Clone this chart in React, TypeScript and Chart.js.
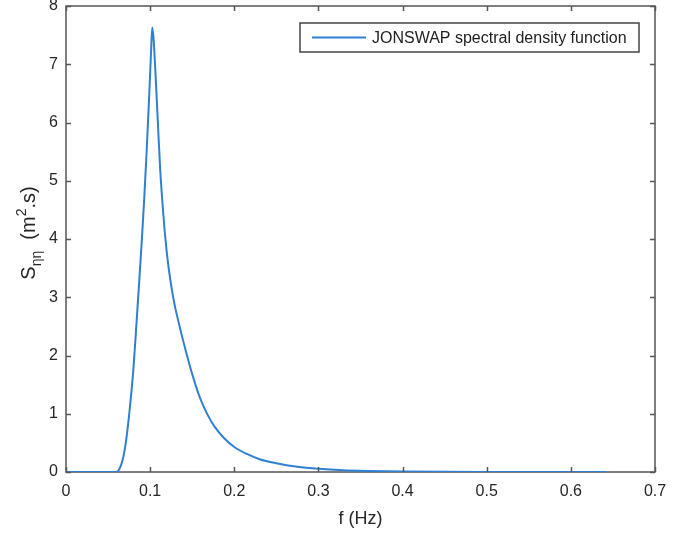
import { useEffect, useRef } from "react";
import { Chart, registerables } from "chart.js";

Chart.register(...registerables);

// JONSWAP spectrum samples: frequency (Hz) and spectral density (m^2.s)
const freqHz = [
  0, 0.06, 0.062, 0.065, 0.068, 0.07, 0.073, 0.076, 0.08, 0.083, 0.086, 0.09,
  0.093, 0.096, 0.099, 0.101, 0.1025, 0.104, 0.1065, 0.1095, 0.112, 0.115,
  0.118, 0.122, 0.128, 0.135, 0.142, 0.15, 0.159, 0.168, 0.177, 0.188, 0.2,
  0.215, 0.23, 0.25, 0.275, 0.3, 0.33, 0.36, 0.4, 0.45, 0.5, 0.55, 0.6, 0.642,
];
const densityS = [
  0, 0, 0.02, 0.1, 0.25, 0.4, 0.72, 1.12, 1.75, 2.38, 3.05, 3.95, 4.7, 5.55,
  6.5, 7.18, 7.63, 7.45, 6.8, 5.9, 5.18, 4.55, 4.03, 3.5, 2.95, 2.5, 2.1, 1.68,
  1.28, 0.99, 0.77, 0.58, 0.43, 0.31, 0.22, 0.15, 0.09, 0.055, 0.03, 0.018,
  0.009, 0.004, 0.002, 0.001, 0, 0,
];

const xTickValues = [0, 0.1, 0.2, 0.3, 0.4, 0.5, 0.6, 0.7];
const yTickValues = [0, 1, 2, 3, 4, 5, 6, 7, 8];

const legendLabel = "JONSWAP spectral density function";
const xTitle = "f (Hz)";

const FONT = '"Liberation Sans", Arial, Helvetica, sans-serif';
const AXIS_COLOR = "#555555";
const TEXT_COLOR = "#262626";
const LINE_COLOR = "#2f80d2";

const framePlugin = {
  id: "matlabFrame",
  beforeDatasetsDraw(chart: any) {
    const { ctx, chartArea: a } = chart;
    ctx.save();
    ctx.strokeStyle = AXIS_COLOR;
    ctx.lineWidth = 1.5;
    ctx.strokeRect(a.left, a.top, a.right - a.left, a.bottom - a.top);
    ctx.restore();
  },
  afterDatasetsDraw(chart: any) {
    const { ctx, chartArea: a, scales } = chart;
    const xs = scales.x;
    const ys = scales.y;
    const tl = 5;
    ctx.save();
    ctx.strokeStyle = AXIS_COLOR;
    ctx.lineWidth = 1.5;
    ctx.beginPath();
    for (const v of xTickValues) {
      const px = Math.round(xs.getPixelForValue(v)) + 0.5;
      ctx.moveTo(px, a.bottom);
      ctx.lineTo(px, a.bottom - tl);
      ctx.moveTo(px, a.top);
      ctx.lineTo(px, a.top + tl);
    }
    for (const v of yTickValues) {
      const py = Math.round(ys.getPixelForValue(v)) + 0.5;
      ctx.moveTo(a.left, py);
      ctx.lineTo(a.left + tl, py);
      ctx.moveTo(a.right, py);
      ctx.lineTo(a.right - tl, py);
    }
    ctx.stroke();

    // legend box
    const lx = 300, ly = 23, lw = 339, lh = 29;
    ctx.fillStyle = "#ffffff";
    ctx.fillRect(lx, ly, lw, lh);
    ctx.strokeStyle = "#444444";
    ctx.lineWidth = 1.5;
    ctx.strokeRect(lx, ly, lw, lh);
    ctx.strokeStyle = LINE_COLOR;
    ctx.lineWidth = 2;
    ctx.beginPath();
    ctx.moveTo(312, ly + lh / 2);
    ctx.lineTo(366, ly + lh / 2);
    ctx.stroke();
    ctx.fillStyle = "#222222";
    ctx.font = `16px ${FONT}`;
    ctx.textAlign = "left";
    ctx.textBaseline = "middle";
    ctx.fillText(legendLabel, 372, ly + lh / 2 + 1);

    // x-axis title
    ctx.font = `18px ${FONT}`;
    ctx.textAlign = "center";
    ctx.textBaseline = "alphabetic";
    ctx.fillStyle = TEXT_COLOR;
    ctx.fillText(xTitle, (a.left + a.right) / 2, 524);

    // y-axis title: S_{ηη} (m^2.s)
    const big = `20px ${FONT}`;
    const small = `14px ${FONT}`;
    const parts: { t: string; f: string; dy: number }[] = [
      { t: "S", f: big, dy: 0 },
      { t: "ηη", f: small, dy: 6 },
      { t: "  (m", f: big, dy: 0 },
      { t: "2", f: small, dy: -9 },
      { t: ".s)", f: big, dy: 0 },
    ];
    let total = 0;
    for (const p of parts) {
      ctx.font = p.f;
      total += ctx.measureText(p.t).width;
    }
    ctx.translate(35, 233);
    ctx.rotate(-Math.PI / 2);
    ctx.textAlign = "left";
    let cx = -total / 2;
    for (const p of parts) {
      ctx.font = p.f;
      ctx.fillText(p.t, cx, p.dy);
      cx += ctx.measureText(p.t).width;
    }
    ctx.restore();
  },
};

export default function App() {
  const canvasRef = useRef<HTMLCanvasElement | null>(null);

  useEffect(() => {
    if (!canvasRef.current) return;
    const points = freqHz.map((f, i) => ({ x: f, y: densityS[i] }));
    const chart = new Chart(canvasRef.current, {
      type: "line",
      data: {
        datasets: [
          {
            label: legendLabel,
            data: points,
            borderColor: LINE_COLOR,
            borderWidth: 2,
            pointRadius: 0,
            fill: false,
            cubicInterpolationMode: "monotone",
          },
        ],
      },
      options: {
        responsive: false,
        animation: false,
        layout: { padding: { left: 0, right: 40, top: 6, bottom: 0 } },
        plugins: {
          legend: { display: false },
          tooltip: { enabled: false },
        },
        scales: {
          x: {
            type: "linear",
            min: 0,
            max: 0.7,
            grid: { display: false, drawTicks: false },
            border: { display: false },
            afterBuildTicks: (s: any) => {
              s.ticks = xTickValues.map((v) => ({ value: v }));
            },
            ticks: {
              padding: 10,
              color: TEXT_COLOR,
              font: { family: FONT, size: 16 },
              maxRotation: 0,
              callback: (v: any) => String(Number(Number(v).toFixed(1))),
            },
            afterFit: (s: any) => {
              s.height = 61;
              s.paddingLeft = 0;
              s.paddingRight = 0;
            },
          },
          y: {
            type: "linear",
            min: 0,
            max: 8,
            grid: { display: false, drawTicks: false },
            border: { display: false },
            afterBuildTicks: (s: any) => {
              s.ticks = yTickValues.map((v) => ({ value: v }));
            },
            ticks: {
              padding: 8,
              color: TEXT_COLOR,
              font: { family: FONT, size: 16 },
              callback: (v: any) => String(v),
            },
            afterFit: (s: any) => {
              s.width = 66;
              s.paddingTop = 0;
              s.paddingBottom = 0;
            },
          },
        },
      },
      plugins: [framePlugin],
    });
    return () => chart.destroy();
  }, []);

  return (
    <div style={{ position: "absolute", left: 0, top: 0, width: 695, height: 533, background: "#fff" }}>
      <canvas ref={canvasRef} width={695} height={533} style={{ display: "block" }} />
    </div>
  );
}
